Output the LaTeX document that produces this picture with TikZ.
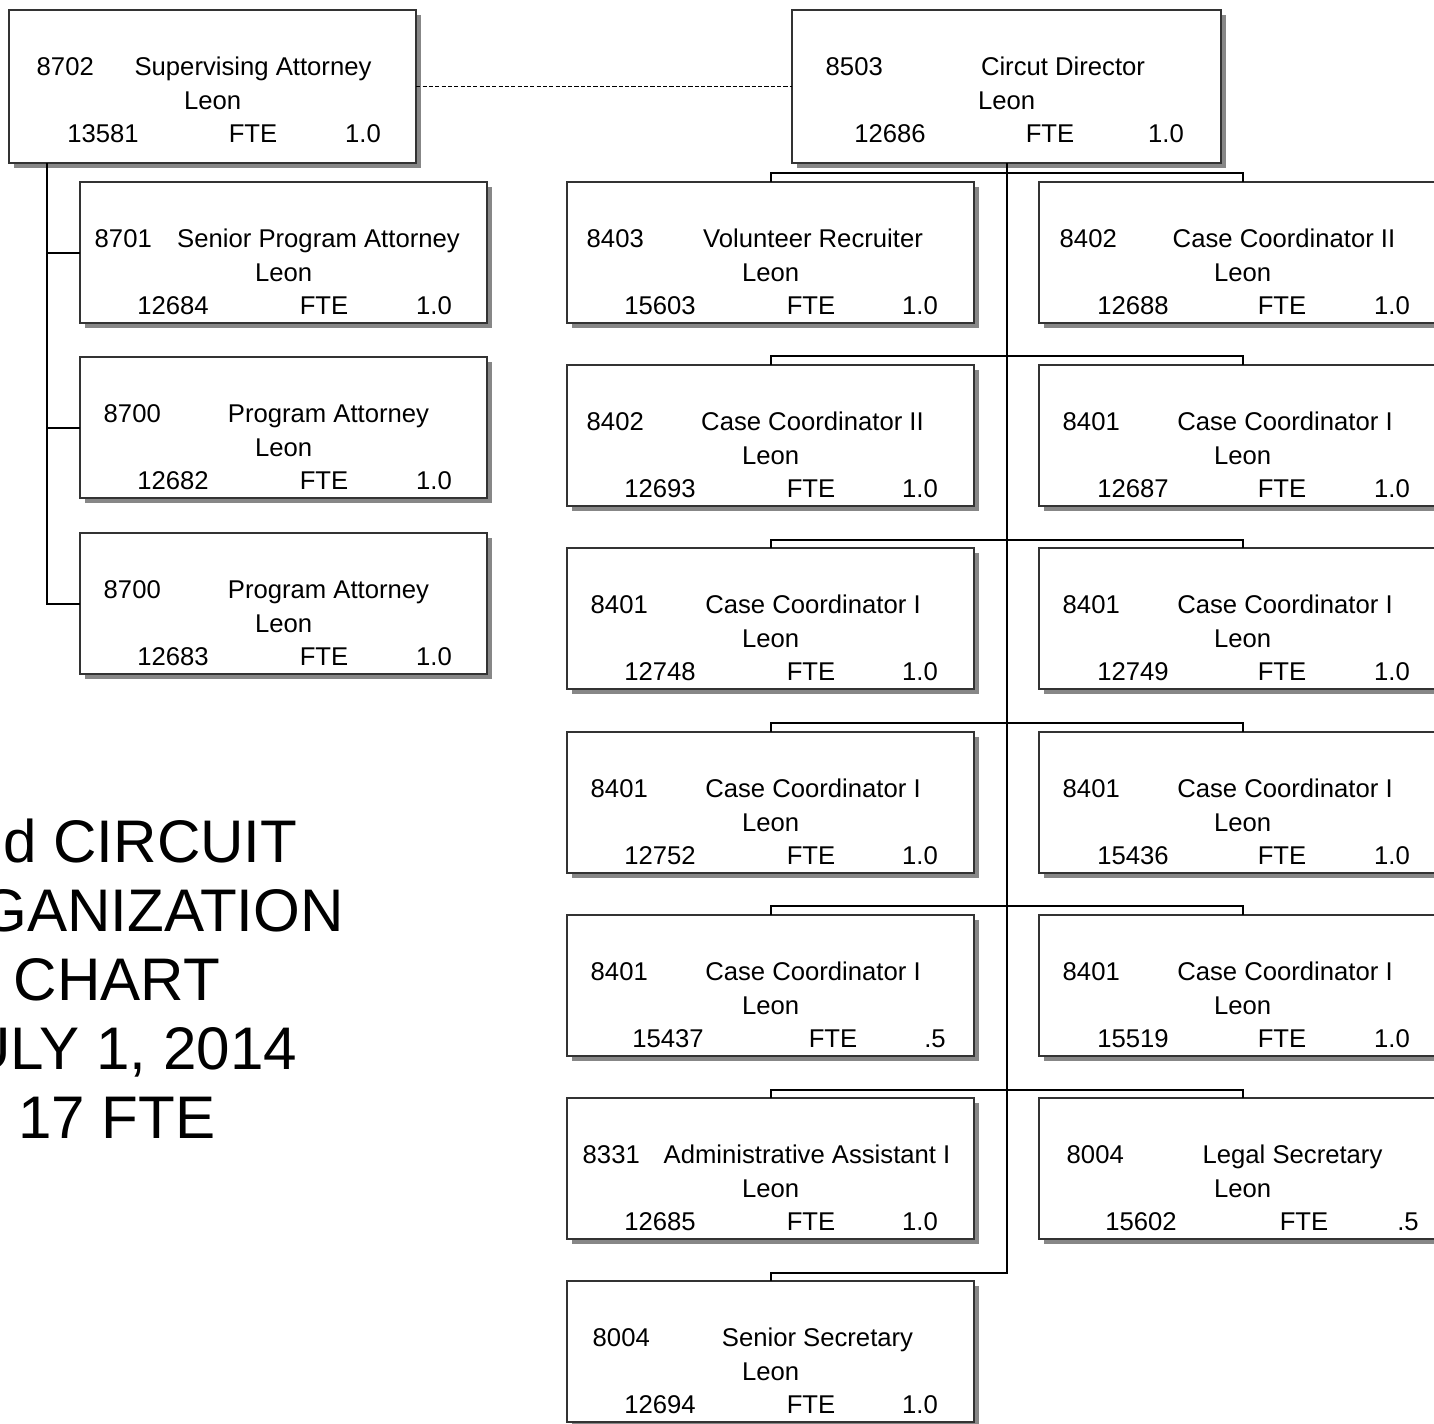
\documentclass[tikz,border=0pt]{standalone}
\usepackage{fontspec}
\setmainfont{Liberation Sans}
\usetikzlibrary{shadows}

% one position box: #1 name, #2 corner, #3 code, #4 code x, #5 title, #6 title x,
% #7 number, #8 value/number x/FTE x/value x, #9 extra box options
\newcommand{\orgbox}[9]{%
  \node[post, #9] (#1) at (#2) {};
  \node[txt, anchor=base west] (#1-code) at ([shift={(#4,65)}]#1.north west) {#3};
  \node[txt] (#1-title) at ([shift={(#6,65)}]#1.north west) {#5};
  \node[txt] (#1-loc) at ([shift={(0,99)}]#1.north) {Leon};
  \foreach \val/\nx/\fx/\vx in {#8} {
    \node[txt] (#1-num) at ([shift={(\nx,132)}]#1.north west) {#7};
    \node[txt] (#1-fte) at ([shift={(\fx,132)}]#1.north west) {FTE};
    \node[txt] (#1-val) at ([shift={(\vx,132)}]#1.north west) {\val};
  }%
}

\begin{document}
\begin{tikzpicture}[
        x=0.01cm, y=-0.01cm,
        post/.style={draw=black!80, line width=0.55pt, fill=white, anchor=north west,
            minimum width=4.07cm, minimum height=1.41cm, inner sep=0pt, outer sep=0pt,
            drop shadow={shadow xshift=0.045cm, shadow yshift=-0.05cm, fill=black!47, opacity=1}},
        txt/.style={inner sep=0pt, anchor=base, font=\fontsize{7.3}{8.8}\selectfont},
        heading/.style={inner sep=0pt, anchor=base, font=\fontsize{17.1}{20}\selectfont},
        conn/.style={draw=black, line width=0.6pt},
        link/.style={draw=black, line width=0.4pt, dash pattern=on 1.2pt off 0.6pt}
    ]
        \fill[white] (0,0) rectangle (1434,1423);
        \useasboundingbox (0,0) rectangle (1434,1423);
        \clip (0,0) rectangle (1434,1423);

        % Top boxes
        \orgbox{sup}{9,10}{8702}{27}{Supervising Attorney}{244}{13581}{1.0/94/244/354}{minimum height=1.53cm}
        \orgbox{dir}{792,10}{8503}{33}{Circut Director}{271}{12686}{1.0/98/258/374}{minimum width=4.29cm, minimum height=1.53cm}

        % Attorneys
        \orgbox{a1}{80,182}{8701}{14}{Senior Program Attorney}{238.5}{12684}{1.0/93/244/354}{}
        \orgbox{a2}{80,357}{8700}{23}{Program Attorney}{248.5}{12682}{1.0/93/244/354}{}
        \orgbox{a3}{80,533}{8700}{23}{Program Attorney}{248.5}{12683}{1.0/93/244/354}{}

        % Circuit staff
        \orgbox{r1l}{567,182}{8403}{19}{Volunteer Recruiter}{246}{15603}{1.0/93/244/353}{}
        \orgbox{r1r}{1039,182}{8402}{20}{Case Coordinator II}{245}{12688}{1.0/94/243/353}{}
        \orgbox{r2l}{567,365}{8402}{19}{Case Coordinator II}{245.5}{12693}{1.0/93/244/353}{}
        \orgbox{r2r}{1039,365}{8401}{23}{Case Coordinator I}{246}{12687}{1.0/94/243/353}{}
        \orgbox{r3l}{567,548}{8401}{23}{Case Coordinator I}{246}{12748}{1.0/93/244/353}{}
        \orgbox{r3r}{1039,548}{8401}{23}{Case Coordinator I}{246}{12749}{1.0/94/243/353}{}
        \orgbox{r4l}{567,732}{8401}{23}{Case Coordinator I}{246}{12752}{1.0/93/244/353}{}
        \orgbox{r4r}{1039,732}{8401}{23}{Case Coordinator I}{246}{15436}{1.0/94/243/353}{}
        \orgbox{r5l}{567,915}{8401}{23}{Case Coordinator I}{246}{15437}{.5/101/266/368}{}
        \orgbox{r5r}{1039,915}{8401}{23}{Case Coordinator I}{246}{15519}{1.0/94/243/353}{}
        \orgbox{r6l}{567,1098}{8331}{15}{Administrative Assistant I}{240}{12685}{1.0/93/244/353}{}
        \orgbox{r6r}{1039,1098}{8004}{27}{Legal Secretary}{253.5}{15602}{.5/102/265/369}{}
        \orgbox{r7l}{567,1281}{8004}{25}{Senior Secretary}{250.5}{12694}{1.0/93/244/353}{}

        % Edges
        \draw[link] (sup.east) -- (dir.west);
        \coordinate (ltrunk) at ([shift={(38,0)}]sup.south west);
        \draw[conn] (ltrunk) |- (a1.west);
        \draw[conn] (ltrunk) |- (a2.west);
        \draw[conn] (ltrunk) |- (a3.west);
        \draw[conn] (r1l.north) -- ++(0,-9) -| (r1r.north);
        \draw[conn] (r2l.north) -- ++(0,-9) -| (r2r.north);
        \draw[conn] (r3l.north) -- ++(0,-8) -| (r3r.north);
        \draw[conn] (r4l.north) -- ++(0,-9) -| (r4r.north);
        \draw[conn] (r5l.north) -- ++(0,-9) -| (r5r.north);
        \draw[conn] (r6l.north) -- ++(0,-8) -| (r6r.north);
        \draw[conn] (r7l.north) -- ++(0,-8) -| (dir.south);

        % Title
        \node[heading] (t1) at (117,862) {2nd CIRCUIT};
        \node[heading] (t2) at (117,931) {ORGANIZATION};
        \node[heading] (t3) at (117,1000) {CHART};
        \node[heading] (t4) at (117,1069) {JULY 1, 2014};
        \node[heading] (t5) at (117,1138) {17 FTE};

    \end{tikzpicture}
\end{document}
